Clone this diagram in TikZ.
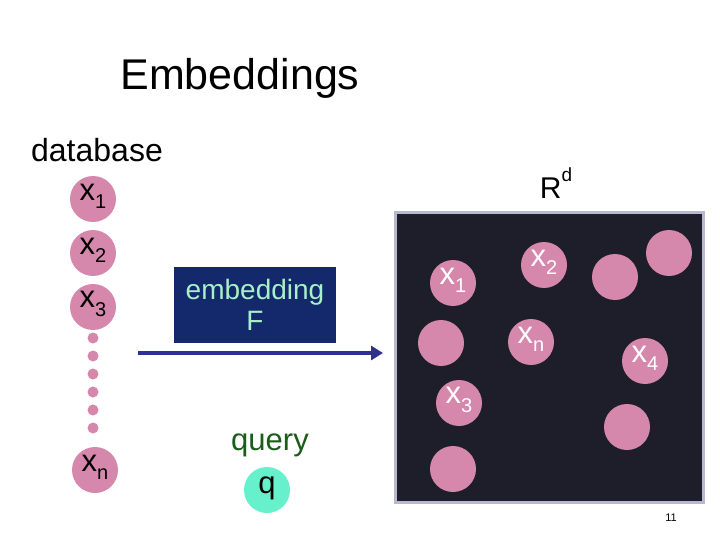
\documentclass[tikz,border=0pt]{standalone}
\usepackage{fontspec}
\usetikzlibrary{arrows.meta}
\setmainfont{Liberation Sans}
\newcommand{\lowsub}[1]{\raisebox{-0.5ex}{\fontsize{20}{20}\selectfont #1}}
\definecolor{pinkc}{HTML}{D687AC}
\definecolor{darkbg}{HTML}{1E1E2A}
\definecolor{boxnavy}{HTML}{13296B}
\definecolor{lgreen}{HTML}{A8F0C8}
\definecolor{arrowc}{HTML}{2E3190}
\definecolor{qgreen}{HTML}{1A5C1A}
\definecolor{aqua}{HTML}{66F0CC}
\definecolor{frame}{HTML}{B8B8D0}
\begin{document}
\begin{tikzpicture}[x=1pt,y=-1pt,
  pt/.style={circle,fill=pinkc,minimum size=46pt,inner sep=0pt,font=\fontsize{31}{31}\selectfont},
  lab/.style={font=\fontsize{31}{31}\selectfont},
  dt/.style={circle,fill=pinkc,minimum size=11pt,inner sep=0pt}]
\useasboundingbox (0,0) rectangle (720,540);
\node[font=\fontsize{43}{43}\selectfont] (title) at (240,78) {Embeddings};
\node[font=\fontsize{32}{32}\selectfont] (db) at (97,150) {database};
\node[font=\fontsize{30}{30}\selectfont] (rd) at (556,183) {R\raisebox{1.1ex}{\fontsize{19}{19}\selectfont d}};
\draw[frame,line width=3pt,fill=darkbg] (395,213) rectangle (703,502);
\foreach \n/\xx/\yy in {l1/93/199,l2/93/253,l3/93/307,ln/95/470,p1/453/283,p2/544/265,p5/615/277,p6/669/253,p7/441/343,pn/531/342,p4/645,361/x,p3/459/403,p8/627/427,p9/453/469}{}
\node[pt] (l1) at (93,199) {};
\node[pt] (l2) at (93,253) {};
\node[pt] (l3) at (93,307) {};
\node[pt] (ln) at (95,470) {};
\node[lab] at ([yshift=3pt]l1) {x\lowsub{1}};
\node[lab] at ([yshift=3pt]l2) {x\lowsub{2}};
\node[lab] at ([yshift=3pt]l3) {x\lowsub{3}};
\node[lab] at ([yshift=3pt]ln) {x\lowsub{n}};
\foreach \i/\y in {1/338,2/356,3/374,4/392,5/410,6/428} \node[dt] (d\i) at (93,\y) {};
\node[fill=boxnavy,minimum width=162pt,minimum height=76pt,text=lgreen,align=center,font=\fontsize{28}{31}\selectfont] (emb) at (255,305) {embedding\\F};
\coordinate (as) at (138,353);
\coordinate (ae) at (383,353);
\draw[arrowc,line width=3.5pt,-{Triangle[length=12pt,width=14pt]}] (as) -- (ae);
\node[text=qgreen,font=\fontsize{31}{31}\selectfont] (qry) at (270,445) {query};
\node[pt,fill=aqua] (q) at (267,490) {};
\node[lab] at ([yshift=2pt]q) {q};
\node[pt] (p1) at (453,283) {};
\node[pt] (p2) at (544,265) {};
\node[pt] (p5) at (615,277) {};
\node[pt] (p6) at (669,253) {};
\node[pt] (p7) at (441,343) {};
\node[pt] (pn) at (531,342) {};
\node[pt] (p4) at (645,361) {};
\node[pt] (p3) at (459,403) {};
\node[pt] (p8) at (627,427) {};
\node[pt] (p9) at (453,469) {};
\begin{scope}[every node/.append style={text=white}]
\node[lab] at ([yshift=3pt]p1) {x\lowsub{1}};
\node[lab] at ([yshift=3pt]p2) {x\lowsub{2}};
\node[lab] at ([yshift=3pt]pn) {x\lowsub{n}};
\node[lab] at ([yshift=3pt]p4) {x\lowsub{4}};
\node[lab] at ([yshift=3pt]p3) {x\lowsub{3}};
\end{scope}
\node[font=\fontsize{11}{11}\selectfont] (pg) at (671,518) {11};
\end{tikzpicture}
\end{document}
